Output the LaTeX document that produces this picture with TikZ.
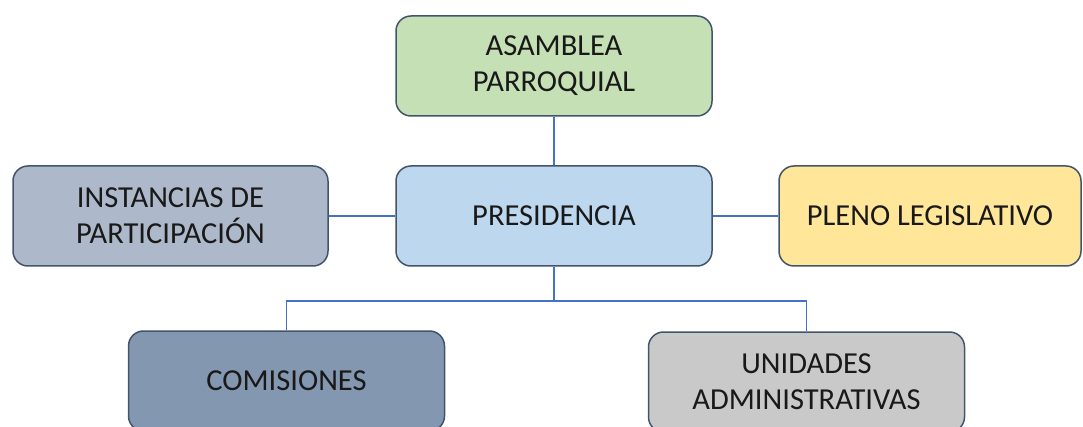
\documentclass[tikz,border=0pt]{standalone}
\usepackage{fontspec}
\setmainfont{Carlito}
\usetikzlibrary{positioning}
\definecolor{bordeorg}{HTML}{42546C}
\definecolor{lineaorg}{HTML}{4472C4}
\definecolor{verdeorg}{HTML}{C5E0B4}
\definecolor{celesteorg}{HTML}{BDD7EE}
\definecolor{grisazul}{HTML}{ADB9CA}
\definecolor{amarilloorg}{HTML}{FFE699}
\definecolor{azulpizarra}{HTML}{8497B0}
\definecolor{grisorg}{HTML}{C9C9C9}
\begin{document}
\begin{tikzpicture}[
    x=1pt, y=-1pt,
    organo/.style={rectangle, draw=bordeorg, line width=1.5pt, rounded corners=15pt, text=black!90, minimum width=316pt, minimum height=100pt, align=center, font=\fontsize{30.5}{36}\selectfont},
    enlace/.style={draw=lineaorg, line width=1.6pt}
]
\useasboundingbox (0,0) rectangle (1083,427);

% Nivel superior
\node[organo, fill=verdeorg] (asamblea) at (554,66) {ASAMBLEA\\PARROQUIAL};

% Nivel central
\node[organo, fill=celesteorg] (presidencia) at (554,216) {PRESIDENCIA};
\node[organo, fill=grisazul, minimum width=315pt] (instancias) at (170.5,216) {INSTANCIAS DE\\PARTICIPACIÓN};
\node[organo, fill=amarilloorg, minimum width=302pt] (pleno) at (930,216) {PLENO LEGISLATIVO};

% Nivel inferior
\node[organo, fill=azulpizarra] (comisiones) at (286.5,381) {COMISIONES};
\node[organo, fill=grisorg] (unidades) at (806.5,382) {UNIDADES\\ADMINISTRATIVAS};

% Conectores
\coordinate (reparto) at (554,301);
\draw[enlace] (asamblea) -- (presidencia);
\draw[enlace] (instancias) -- (presidencia);
\draw[enlace] (presidencia) -- (pleno);
\draw[enlace] (presidencia) -- (reparto);
\draw[enlace] (comisiones.north) |- (reparto) -| (unidades.north);

\end{tikzpicture}
\end{document}
